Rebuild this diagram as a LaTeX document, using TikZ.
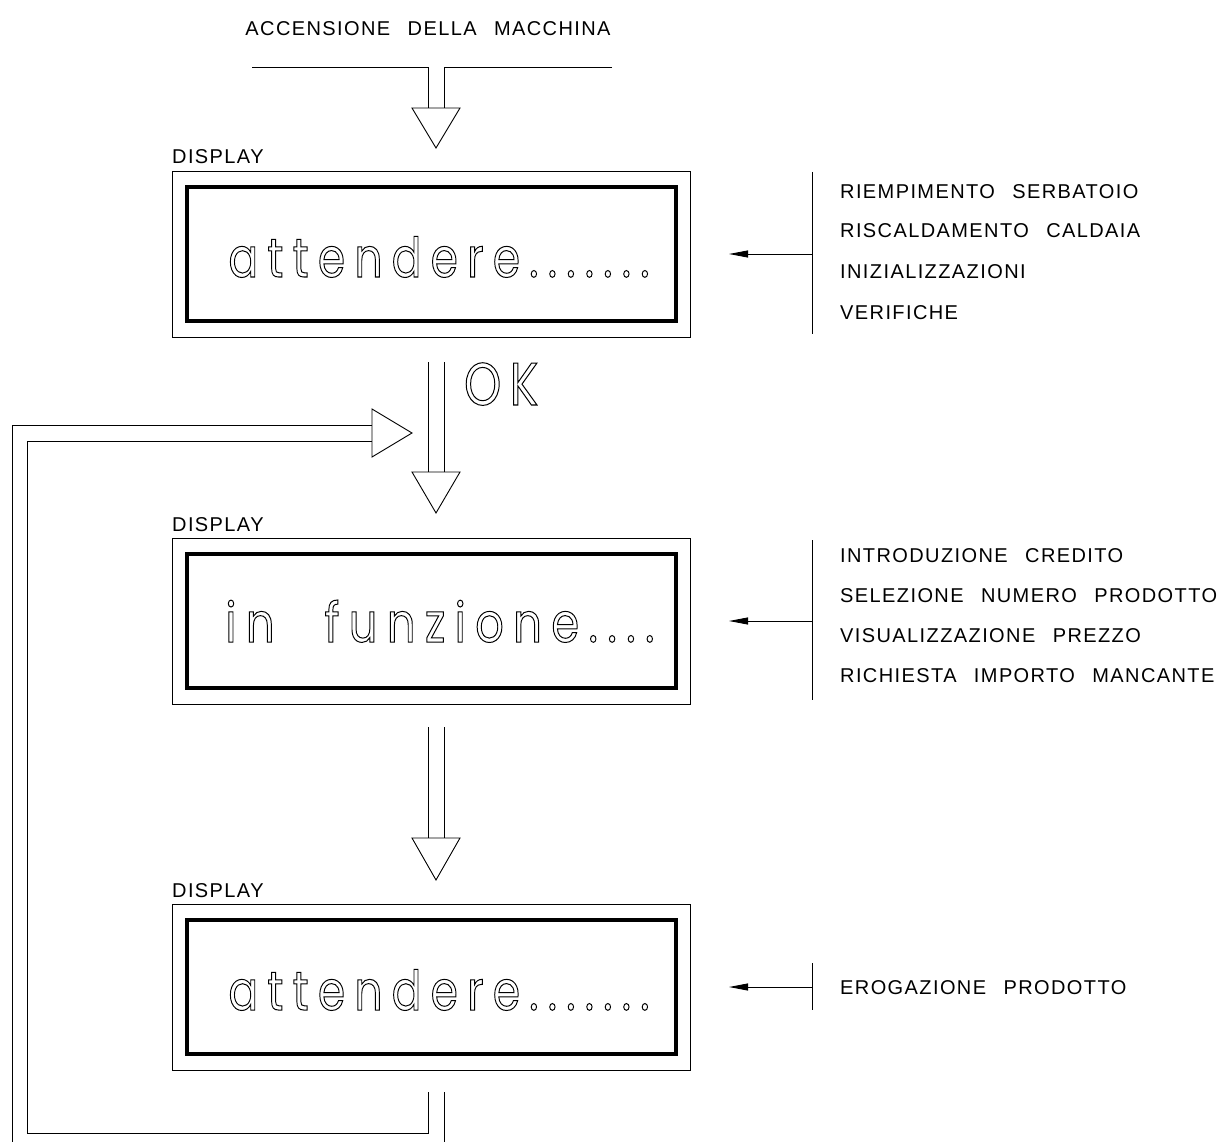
\documentclass[tikz,border=0pt]{standalone}
\usepackage{fontspec}
\usepackage{graphicx}
\setmainfont{Liberation Sans}
\newfontfamily\lblfont[LetterSpace=7,WordSpace=2.5]{Liberation Sans}
\newfontfamily\bigfont[FakeStretch=0.85,LetterSpace=18]{Poppins}
\newfontfamily\okfont[FakeStretch=0.8,LetterSpace=15]{Poppins}
\usetikzlibrary{arrows.meta}
\newcommand{\outl}[1]{\special{pdf:literal direct 1 Tr 1 w}#1\special{pdf:literal direct 0 Tr}}
\newcommand{\bigtext}[2]{\resizebox{#1}{\height}{\bigfont\fontsize{55}{60}\selectfont\outl{#2}}}
\begin{document}
\begin{tikzpicture}[x=1pt,y=-1pt,
  thinline/.style={line width=0.9pt},
  thickline/.style={line width=4pt},
  outerbox/.style={draw,thinline,minimum width=518pt,minimum height=166pt,inner sep=0pt},
  innerbox/.style={draw,thickline,minimum width=489pt,minimum height=134pt,inner sep=0pt},
  lbl/.style={font=\lblfont\fontsize{20}{24}\selectfont,inner sep=0pt,anchor=base west},
  bigt/.style={inner sep=0pt,anchor=base},
  sidearrow/.style={thinline,-{Triangle[length=19pt,width=7pt]}}]
\useasboundingbox (0,0) rectangle (1221,1142);
\clip (0,0) rectangle (1221,1142);

% title and entry arrow
\node[lbl,anchor=base] (title) at (428,36) {ACCENSIONE DELLA MACCHINA};
\coordinate (h1l) at (252,67); \coordinate (h1r) at (612,67);
\coordinate (a1L) at (428,67); \coordinate (a1R) at (444,67);
\coordinate (a1Lb) at (428,108); \coordinate (a1Rb) at (444,108);
\coordinate (t1a) at (412,108); \coordinate (t1b) at (460,108); \coordinate (t1c) at (436,148);
\draw[thinline] (h1l) -- (a1L) -- (a1Lb);
\draw[thinline] (h1r) -- (a1R) -- (a1Rb);
\draw[thinline] (t1a) -- (t1b) -- (t1c) -- cycle;

% display 1
\node[lbl] (dl1) at (172,164) {DISPLAY};
\node[outerbox] (o1) at (431,254) {};
\node[innerbox] (i1) at (431.5,254) {};
\node[bigt] (m1) at (439,277) {\bigtext{421pt}{attendere.......}};
\coordinate (v1t) at (812,172); \coordinate (v1b) at (812,334);
\coordinate (v1m) at (812,254); \coordinate (p1) at (729,254);
\draw[thinline] (v1t) -- (v1b);
\draw[sidearrow] (v1m) -- (p1);
\node[lbl] (r1a) at (840,199) {RIEMPIMENTO SERBATOIO};
\node[lbl] (r1b) at (840,238) {RISCALDAMENTO CALDAIA};
\node[lbl] (r1c) at (840,279) {INIZIALIZZAZIONI};
\node[lbl] (r1d) at (840,319) {VERIFICHE};

% OK arrow
\coordinate (a2L) at (428,362); \coordinate (a2R) at (444,362);
\coordinate (a2Lb) at (428,472); \coordinate (a2Rb) at (444,472);
\coordinate (t2a) at (412,472); \coordinate (t2b) at (460,472); \coordinate (t2c) at (436,513);
\draw[thinline] (a2L) -- (a2Lb);
\draw[thinline] (a2R) -- (a2Rb);
\draw[thinline] (t2a) -- (t2b) -- (t2c) -- cycle;
\node[inner sep=0pt,anchor=base west] (ok) at (464,405) {\resizebox{74pt}{\height}{\okfont\fontsize{60}{66}\selectfont\outl{OK}}};

% display 2
\node[lbl] (dl2) at (172,531) {DISPLAY};
\node[outerbox] (o2) at (431,621) {};
\node[innerbox] (i2) at (431.5,621) {};
\node[bigt] (m2) at (440,642) {\bigtext{429pt}{in\hspace{30pt} funzione....}};
\coordinate (v2t) at (812,540); \coordinate (v2b) at (812,700);
\coordinate (v2m) at (812,621); \coordinate (p2) at (729,621);
\draw[thinline] (v2t) -- (v2b);
\draw[sidearrow] (v2m) -- (p2);
\node[lbl] (r2a) at (840,562) {INTRODUZIONE CREDITO};
\node[lbl] (r2b) at (840,602) {SELEZIONE NUMERO PRODOTTO};
\node[lbl] (r2c) at (840,642) {VISUALIZZAZIONE PREZZO};
\node[lbl] (r2d) at (840,682) {RICHIESTA IMPORTO MANCANTE};

% arrow 3
\coordinate (a3L) at (428,727); \coordinate (a3R) at (444,727);
\coordinate (a3Lb) at (428,838); \coordinate (a3Rb) at (444,838);
\coordinate (t3a) at (412,838); \coordinate (t3b) at (460,838); \coordinate (t3c) at (436,880);
\draw[thinline] (a3L) -- (a3Lb);
\draw[thinline] (a3R) -- (a3Rb);
\draw[thinline] (t3a) -- (t3b) -- (t3c) -- cycle;

% display 3
\node[lbl] (dl3) at (172,897) {DISPLAY};
\node[outerbox] (o3) at (431,987) {};
\node[innerbox] (i3) at (431.5,987) {};
\node[bigt] (m3) at (439,1010) {\bigtext{421pt}{attendere.......}};
\coordinate (v3t) at (812,963); \coordinate (v3b) at (812,1010);
\coordinate (v3m) at (812,987); \coordinate (p3) at (729,987);
\draw[thinline] (v3t) -- (v3b);
\draw[sidearrow] (v3m) -- (p3);
\node[lbl] (r3a) at (840,994) {EROGAZIONE PRODOTTO};

% return loop
\coordinate (b1) at (428,1092); \coordinate (b2) at (428,1133);
\coordinate (b3) at (27,1133); \coordinate (b4) at (27,441); \coordinate (b5) at (372,441);
\coordinate (c1) at (444,1092); \coordinate (c2) at (444,1150);
\coordinate (d1) at (12,1150); \coordinate (d2) at (12,425); \coordinate (d3) at (372,425);
\coordinate (t4a) at (372,409); \coordinate (t4b) at (372,457); \coordinate (t4c) at (412,433);
\draw[thinline] (b1) -- (b2) -- (b3) -- (b4) -- (b5);
\draw[thinline] (c1) -- (c2);
\draw[thinline] (d1) -- (d2) -- (d3);
\draw[thinline] (t4a) -- (t4b) -- (t4c) -- cycle;
\end{tikzpicture}
\end{document}
